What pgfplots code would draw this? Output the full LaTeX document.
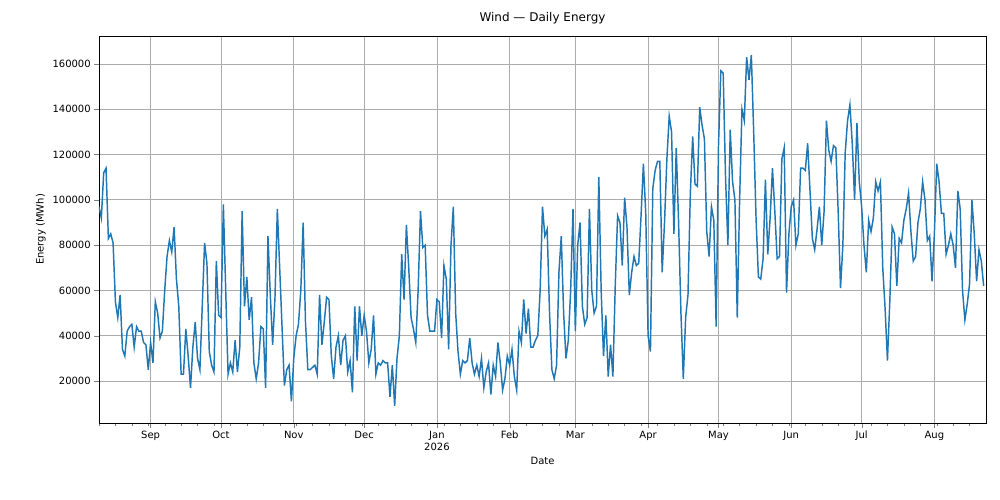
\documentclass[border=0pt]{standalone}
\usepackage{pgfplots}
\pgfplotsset{compat=1.18}
\usepackage{pgfplotstable}
\usepackage{fontspec}
\setmainfont{DejaVu Sans}
\definecolor{c0}{HTML}{1F77B4}
\pgfplotstableread{
d v
0 97
1 92
2 112
3 114
4 83
5 85
6 81
7 55
8 48
9 58
10 34
11 31
12 42
13 44
14 45
15 35
16 44
17 42
18 42
19 37
20 36
21 25
22 37
23 28
24 55
25 50
26 39
27 42
28 60
29 75
30 82
31 77
32 88
33 65
34 53
35 23
36 23
37 43
38 31
39 17
40 35
41 46
42 30
43 25
44 53
45 81
46 72
47 33
48 27
49 24
50 73
51 49
52 48
53 98
54 60
55 23
56 28
57 24
58 38
59 24
60 35
61 95
62 53
63 66
64 47
65 57
66 28
67 21
68 28
69 44
70 43
71 17
72 84
73 58
74 36
75 57
76 96
77 70
78 44
79 18
80 25
81 27
82 11
83 30
84 40
85 45
86 60
87 90
88 46
89 25
90 25
91 26
92 27
93 23
94 58
95 36
96 46
97 57
98 56
99 31
100 21
101 35
102 40
103 27
104 38
105 40
106 24
107 29
108 15
109 53
110 29
111 53
112 40
113 49
114 42
115 28
116 34
117 49
118 23
119 28
120 27
121 29
122 28
123 28
124 13
125 27
126 9
127 30
128 40
129 76
130 56
131 89
132 70
133 48
134 43
135 37
136 60
137 95
138 79
139 80
140 49
141 42
142 42
143 42
144 56
145 55
146 39
147 71
148 65
149 34
150 80
151 97
152 50
153 33
154 23
155 29
156 28
157 29
158 39
159 28
160 23
161 27
162 22
163 30
164 17
165 24
166 28
167 14
168 27
169 22
170 37
171 28
172 16
173 21
174 31
175 27
176 34
177 22
178 16
179 42
180 37
181 56
182 41
183 52
184 35
185 35
186 38
187 40
188 60
189 97
190 84
191 87
192 50
193 25
194 21
195 27
196 68
197 84
198 50
199 30
200 38
201 60
202 96
203 42
204 80
205 90
206 53
207 45
208 48
209 96
210 60
211 50
212 53
213 110
214 60
215 31
216 49
217 22
218 36
219 22
220 62
221 93
222 90
223 71
224 101
225 88
226 58
227 68
228 75
229 71
230 72
231 93
232 116
233 94
234 40
235 33
236 105
237 113
238 117
239 117
240 68
241 90
242 118
243 137
244 130
245 85
246 123
247 90
248 50
249 21
250 48
251 58
252 103
253 128
254 107
255 106
256 141
257 133
258 127
259 86
260 75
261 97
262 91
263 44
264 124
265 157
266 156
267 110
268 80
269 131
270 108
271 100
272 48
273 100
274 140
275 135
276 163
277 153
278 164
279 130
280 92
281 66
282 65
283 74
284 109
285 76
286 92
287 114
288 95
289 74
290 75
291 118
292 123
293 59
294 85
295 97
296 100
297 80
298 85
299 114
300 114
301 113
302 125
303 104
304 83
305 78
306 87
307 97
308 80
309 95
310 135
311 122
312 117
313 124
314 123
315 95
316 61
317 80
318 121
319 135
320 142
321 125
322 100
323 134
324 108
325 97
326 80
327 68
328 91
329 86
330 92
331 108
332 104
333 108
334 70
335 52
336 29
337 55
338 88
339 85
340 62
341 83
342 81
343 91
344 96
345 103
346 86
347 73
348 75
349 90
350 96
351 108
352 100
353 82
354 84
355 64
356 85
357 116
358 108
359 94
360 94
361 76
362 80
363 85
364 80
365 70
366 104
367 96
368 60
369 47
370 54
371 63
372 100
373 85
374 64
375 78
376 73
377 62
}\wind
\begin{document}
\fontsize{7.5}{9}\selectfont
\begin{tikzpicture}
\begin{axis}[
  scale only axis, width=665.25pt, height=290.25pt,
  xmin=0, xmax=378, ymin=1450, ymax=172400,
  xtick={22,52,83,113,144,175,203,234,264,295,325,356},
  xticklabels={Sep,Oct,Nov,Dec,{Jan\\2026},Feb,Mar,Apr,May,Jun,Jul,Aug},
  xticklabel style={align=center},
  minor xtick={0,7,14,21,28,35,42,49,56,63,70,77,84,91,98,105,112,119,126,133,140,147,154,161,168,175,182,189,196,203,210,217,224,231,238,245,252,259,266,273,280,287,294,301,308,315,322,329,336,343,350,357,364,371},
  ytick={20000,40000,60000,80000,100000,120000,140000,160000},
  scaled y ticks=false,
  yticklabel style={/pgf/number format/.cd,fixed,1000 sep={}},
  /pgf/number format/assume math mode=true,
  tick align=outside, tick pos=left,
  major tick length=3.5pt, minor tick length=2pt,
  grid=major, major grid style={gray!65, line width=0.6pt},
  axis line style={line width=0.6pt},
  title={\fontsize{9}{11}\selectfont Wind — Daily Energy},
  xlabel={Date}, ylabel={Energy (MWh)},
  ticklabel style={font=\fontsize{7.5}{9}\selectfont},
]
\addplot[c0, line width=1.1pt, no marks] table[x=d, y expr=\thisrow{v}*1000] {\wind};
\coordinate (bl) at (rel axis cs:0,0);
\coordinate (tr) at (rel axis cs:1,1);
\end{axis}
\pgfresetboundingbox
\path[use as bounding box] ([xshift=-74.25pt,yshift=-57.75pt]bl) rectangle ([xshift=10.5pt,yshift=27pt]tr);
\end{tikzpicture}
\end{document}
